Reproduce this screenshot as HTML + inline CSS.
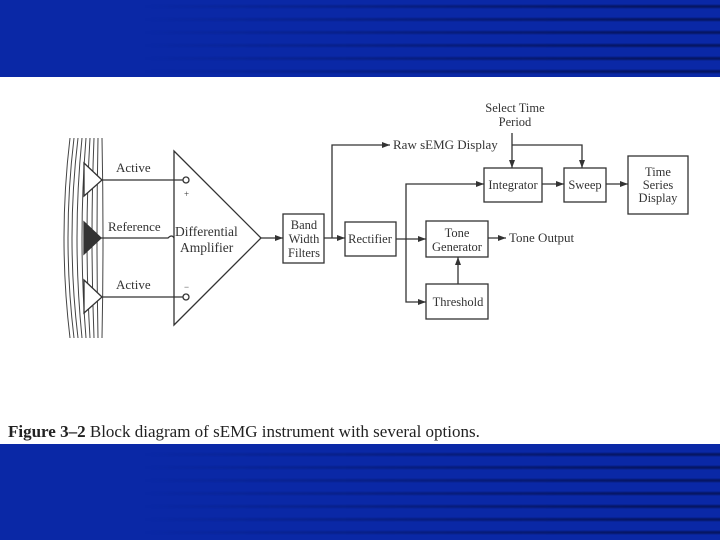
<!DOCTYPE html>
<html><head><meta charset="utf-8"><style>
html,body{margin:0;padding:0;width:720px;height:540px;overflow:hidden;background:#fff;}
.band{position:absolute;left:0;width:720px;background:#0a28a6;overflow:hidden;}
.band .s{position:absolute;inset:0;background:repeating-linear-gradient(to bottom,rgba(0,0,0,0) 0px,rgba(0,0,0,0) 6px,#061664 8px,#061664 9px,rgba(0,0,0,0) 11px,rgba(0,0,0,0) 13px);
-webkit-mask-image:linear-gradient(to right,transparent 20%,rgba(0,0,0,.5) 55%,black 90%);mask-image:linear-gradient(to right,transparent 20%,rgba(0,0,0,.5) 55%,black 90%);}
svg text{font-family:"Liberation Serif",serif;fill:#333;}
</style></head><body>
<div class="band" style="top:0;height:77px;"><div class="s" style="top:-2px"></div></div>
<div class="band" style="top:444px;height:96px;"><div class="s" style="top:2px"></div></div>
<svg width="720" height="540" style="position:absolute;left:0;top:0" xmlns="http://www.w3.org/2000/svg">
<defs><marker id="a" markerWidth="8" markerHeight="6" refX="8" refY="3" orient="auto" markerUnits="userSpaceOnUse"><path d="M0,0 L8,3 L0,6 Z" fill="#333"/></marker></defs>
<g fill="none" stroke="#444" stroke-width="1">
<path d="M70,138 Q58,238 70,338"/><path d="M74,138 Q62,238 74,338"/><path d="M78,138 Q66,238 78,338"/>
<path d="M82,138 Q72,238 82,338"/><path d="M86,138 Q78,238 86,338"/><path d="M90,138 Q84,238 90,338"/>
<path d="M94,138 Q90,238 94,338"/><path d="M98,138 Q96,238 98,338"/><path d="M102,138 Q104,238 102,338"/>
</g>
<g stroke="#333" stroke-width="1.3" fill="#fff">
<path d="M84,163 L102,180 L84,196 Z"/><path d="M84,280 L102,297 L84,313 Z"/>
<path d="M84,222 L101,238 L84,254 Z" fill="#333"/>
<path d="M174,151 L261,238 L174,325 Z" fill="none"/>
<line x1="102" y1="180" x2="183" y2="180"/><line x1="102" y1="297" x2="183" y2="297"/>
<path d="M101,238 L168,238 Q172,234 174,238" fill="none"/>
<circle cx="186" cy="180" r="3"/><circle cx="186" cy="297" r="3"/>
<rect x="283" y="214" width="41" height="49" fill="none"/>
<rect x="345" y="222" width="51" height="34" fill="none"/>
<rect x="426" y="221" width="62" height="36" fill="none"/>
<rect x="426" y="284" width="62" height="35" fill="none"/>
<rect x="484" y="168" width="58" height="34" fill="none"/>
<rect x="564" y="168" width="42" height="34" fill="none"/>
<rect x="628" y="156" width="60" height="58" fill="none"/>
</g>
<g stroke="#333" stroke-width="1.3" fill="none" marker-end="url(#a)">
<line x1="261" y1="238" x2="283" y2="238"/>
<line x1="324" y1="238" x2="345" y2="238"/>
<path d="M332,238 L332,145 L390,145"/>
<line x1="396" y1="239" x2="426" y2="239"/>
<path d="M406,239 L406,184 L484,184"/>
<path d="M406,239 L406,302 L426,302"/>
<line x1="458" y1="284" x2="458" y2="257"/>
<line x1="488" y1="238" x2="506" y2="238"/>
<line x1="512" y1="133" x2="512" y2="168"/>
<path d="M512,145 L582,145 L582,168"/>
<line x1="542" y1="184" x2="564" y2="184"/>
<line x1="606" y1="184" x2="628" y2="184"/>
</g>
<g font-size="13">
<text x="116" y="172">Active</text>
<text x="108" y="231">Reference</text>
<text x="116" y="289">Active</text>
<text x="175" y="236" font-size="13.5">Differential</text>
<text x="180" y="252" font-size="13.5">Amplifier</text>
<text x="184" y="197" font-size="9">+</text>
<text x="184" y="290" font-size="9">−</text>
<g text-anchor="middle" font-size="12.5">
<text x="304" y="229">Band</text><text x="304" y="243">Width</text><text x="304" y="257">Filters</text>
<text x="370" y="243">Rectifier</text>
<text x="457" y="237">Tone</text><text x="457" y="251">Generator</text>
<text x="458" y="306">Threshold</text>
<text x="513" y="189">Integrator</text>
<text x="585" y="189">Sweep</text>
<text x="658" y="176">Time</text><text x="658" y="189">Series</text><text x="658" y="202">Display</text>
<text x="515" y="112">Select Time</text><text x="515" y="126">Period</text>
</g>
<text x="393" y="149" font-size="13">Raw sEMG Display</text>
<text x="509" y="242" font-size="13">Tone Output</text>
</g>
<text x="8" y="437" font-size="17" style="fill:#222"><tspan font-weight="bold">Figure 3–2</tspan>  Block diagram of sEMG instrument with several options.</text>
</svg>
</body></html>
